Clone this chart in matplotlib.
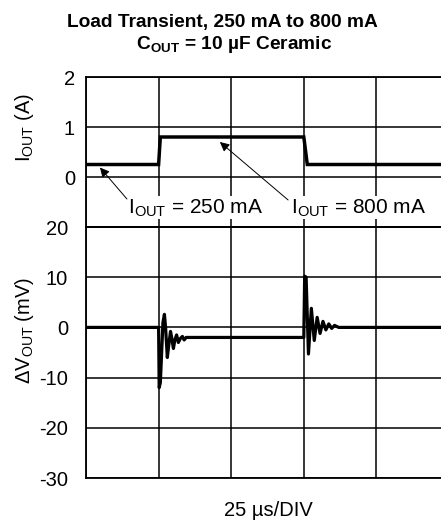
import matplotlib
matplotlib.use("Agg")
import matplotlib.pyplot as plt

plt.rcParams['font.family'] = ['Liberation Sans', 'DejaVu Sans']
plt.rcParams['mathtext.fontset'] = 'custom'
plt.rcParams['mathtext.rm'] = 'Liberation Sans'
plt.rcParams['mathtext.bf'] = 'Liberation Sans:bold'

# time in us (25 us/div)
t_i = [0, 25, 25.6, 75, 76.2, 125]
i_out = [0.25, 0.25, 0.8, 0.8, 0.25, 0.25]

t_v = [0, 25, 25.2, 25.6, 26.5, 27.0, 27.4, 28.0, 28.4, 29.1, 29.5, 30.1, 30.6,
       31.2, 31.8, 32.5, 33.2, 33.8, 34.5,
       75, 75.3, 75.8, 76.6, 77.6, 78.6, 79.6, 80.6, 81.6, 82.6, 83.6, 84.6,
       85.6, 87, 125]
dv_out = [0, 0, -12, -11, 1, 2.6, 0, -6, -4, -0.8, -2, -4.2, -2.5,
          -1.5, -3, -2.2, -1.8, -2.5, -2,
          -2, 10.2, 10, -5.3, 3.8, -2.6, 2, -1.2, 1.2, -0.5, 0.7, -0.2,
          0.4, 0, 0]

W, H = 441, 524
fig = plt.figure(figsize=(W / 100, H / 100), dpi=100)

x0, x1 = 86, 449
ax1 = fig.add_axes([x0 / W, 1 - 227 / H, (x1 - x0) / W, 150 / H])
ax2 = fig.add_axes([x0 / W, 1 - 478 / H, (x1 - x0) / W, 251 / H])

for ax in (ax1, ax2):
    ax.set_facecolor('none')
    ax.set_xlim(0, 125)
    ax.set_xticks([0, 25, 50, 75, 100, 125])
    ax.tick_params(length=0, labelsize=14.5, pad=8, labelbottom=False)
    ax.grid(True, color='black', lw=1.1)
    for s in ax.spines.values():
        s.set_linewidth(1.3)

ax1.set_ylim(-1, 2)
ax1.set_yticks([-1, 0, 1, 2])
ax1.set_yticklabels(['', '0', '1', '2'])
ax1.plot(t_i, i_out, color='black', lw=2.5, solid_joinstyle='miter')

ax2.set_ylim(-30, 20)
ax2.set_yticks([-30, -20, -10, 0, 10, 20])
ax2.set_yticklabels(['-30', '-20', '-10', '0', '10', '20'])
ax2.tick_params(pad=13)
ax2.plot(t_v, dv_out, color='black', lw=2.3)

arrow = dict(arrowstyle='-|>', color='black', lw=0.7, mutation_scale=14,
             shrinkA=0, shrinkB=0)
box = dict(facecolor='white', edgecolor='none', pad=0.5)
ax1.text(14.6, -0.72, r'I$_{\mathregular{OUT}}$ = 250 mA', fontsize=15,
         ha='left', va='baseline', bbox=box, zorder=5, clip_on=False)
ax1.text(70.6, -0.72, r'I$_{\mathregular{OUT}}$ = 800 mA', fontsize=15,
         ha='left', va='baseline', bbox=box, zorder=5, clip_on=False)
ax1.annotate('', xy=(4.8, 0.19), xytext=(14.1, -0.44), arrowprops=arrow,
             annotation_clip=False, zorder=6)
ax1.annotate('', xy=(46.1, 0.70), xytext=(69.6, -0.46), arrowprops=arrow,
             annotation_clip=False, zorder=6)

fig.text(222 / W, 1 - 27 / H, 'Load Transient, 250 mA to 800 mA', fontsize=13.8,
         fontweight='bold', ha='center', va='baseline')
fig.text(234 / W, 1 - 49 / H, r'C$_{\mathbf{OUT}}$ = 10 µF Ceramic', fontsize=13.8,
         fontweight='bold', ha='center', va='baseline')

fig.text(24 / W, 1 - 127 / H, r'I$_{\mathregular{OUT}}$ (A)', fontsize=14.5,
         rotation=90, ha='center', va='center')
fig.text(24 / W, 1 - 330 / H, r'ΔV$_{\mathregular{OUT}}$ (mV)', fontsize=14.5,
         rotation=90, ha='center', va='center')
fig.text(268 / W, 1 - 510 / H, '25 µs/DIV', fontsize=14.5, ha='center', va='center')

fig.savefig('out.png', dpi=100)
